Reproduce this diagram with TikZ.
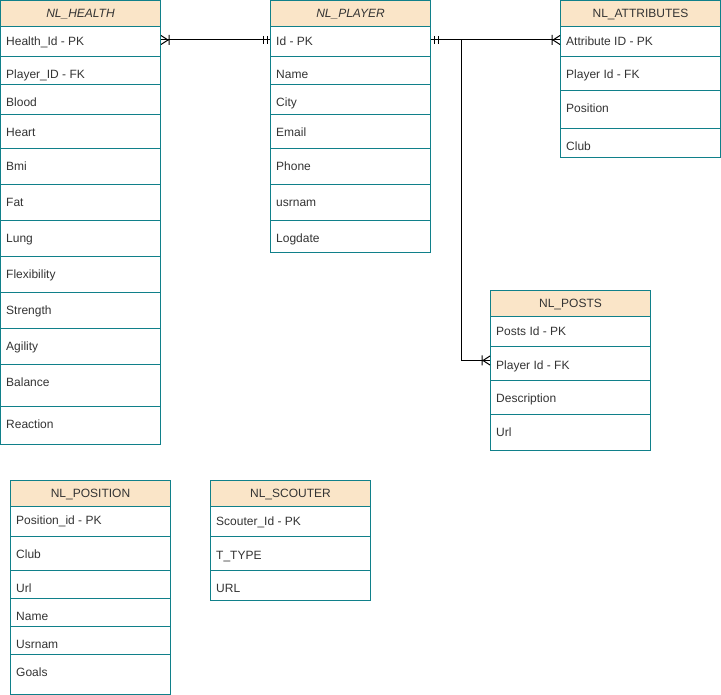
\documentclass[tikz,border=0pt]{standalone}
\usepackage{fontspec}
\setmainfont{Liberation Sans}
\definecolor{tblline}{HTML}{10808A}
\definecolor{tblhead}{HTML}{FAE5C8}
\definecolor{tbltext}{HTML}{333333}
\tikzset{
  erbox/.style={draw=tblline, line width=1pt, rectangle, inner sep=0pt,
    anchor=north west, minimum width=160pt},
  erhead/.style={erbox, fill=tblhead, text=tbltext,
    font=\fontsize{12}{14}\selectfont, text height=8.6pt, text depth=0pt},
  erfield/.style={anchor=west, inner sep=0pt, text=tbltext,
    font=\fontsize{12}{14}\selectfont, text height=8.6pt, text depth=0pt},
  link/.style={draw=black, line width=1pt},
}
% header box: name, x, top, height, title
\newcommand\erheader[5]{\node[erhead, minimum height=#4pt] (#1) at (#2,#3) {#5};}
% field row: name, x, top, bottom, text y, label
\newcommand\errow[6]{%
  \node[erbox, minimum height={(#4-#3)*1pt}] (#1) at (#2,#3) {};
  \node[erfield] (#1-t) at (#2+6,#5+1) {#6};}
% "mandatory one" end: two bars, drawn away from the table edge
\newcommand\onemark[2]{\begin{scope}[shift={(#1)}, xscale=#2]
  \draw[link] (3,-4) -- (3,4) (7,-4) -- (7,4);\end{scope}}
% "one or many" end: crow's foot plus a bar
\newcommand\manymark[2]{\begin{scope}[shift={(#1)}, xscale=#2]
  \draw[link] (0,-4.5) -- (7,0) -- (0,4.5) (8,-5) -- (8,5);\end{scope}}

\begin{document}
\begin{tikzpicture}[x=1pt, y=-1pt]
\useasboundingbox (0,0) rectangle (721,695);

% NL_HEALTH
\erheader{health}{0}{0}{26}{\itshape NL\_HEALTH}
\errow{hid}{0}{26}{56}{40}{Health\_Id - PK}
\errow{hpf}{0}{56}{84}{73}{Player\_ID - FK}
\errow{hbl}{0}{84}{114}{101}{Blood}
\errow{hhe}{0}{114}{148}{131}{Heart}
\errow{hbm}{0}{148}{184}{165}{Bmi}
\errow{hfa}{0}{184}{220}{201}{Fat}
\errow{hlu}{0}{220}{256}{237}{Lung}
\errow{hfl}{0}{256}{292}{273}{Flexibility}
\errow{hst}{0}{292}{328}{309}{Strength}
\errow{hag}{0}{328}{364}{345}{Agility}
\errow{hba}{0}{364}{406}{381}{Balance}
\errow{hre}{0}{406}{444}{423}{Reaction}

% NL_PLAYER
\erheader{player}{270}{0}{26}{\itshape NL\_PLAYER}
\errow{pid}{270}{26}{56}{40}{Id - PK}
\errow{pna}{270}{56}{84}{73}{Name}
\errow{pci}{270}{84}{114}{101}{City}
\errow{pem}{270}{114}{148}{131}{Email}
\errow{pph}{270}{148}{184}{165}{Phone}
\errow{pus}{270}{184}{220}{201}{usrnam}
\errow{plo}{270}{220}{252}{237}{Logdate}

% NL_ATTRIBUTES
\erheader{attrs}{560}{0}{26}{NL\_ATTRIBUTES}
\errow{aid}{560}{26}{56}{40}{Attribute ID - PK}
\errow{apl}{560}{56}{90}{73}{Player Id - FK}
\errow{apo}{560}{90}{128}{107}{Position}
\errow{acl}{560}{128}{157}{145}{Club}

% NL_POSTS
\erheader{posts}{490}{290}{26}{NL\_POSTS}
\errow{poid}{490}{316}{346}{330}{Posts Id - PK}
\errow{pofk}{490}{346}{380}{364}{Player Id - FK}
\errow{pode}{490}{380}{414}{397}{Description}
\errow{pour}{490}{414}{450}{431}{Url}

% NL_POSITION
\erheader{position}{10}{480}{26}{NL\_POSITION}
\errow{sid}{10}{506}{536}{519}{Position\_id - PK}
\errow{scl}{10}{536}{570}{553}{Club}
\errow{sur}{10}{570}{598}{587}{Url}
\errow{sna}{10}{598}{626}{615}{Name}
\errow{sus}{10}{626}{654}{643}{Usrnam}
\errow{sgo}{10}{654}{694}{671}{Goals}

% NL_SCOUTER
\erheader{scouter}{210}{480}{26}{NL\_SCOUTER}
\errow{cid}{210}{506}{536}{520}{Scouter\_Id - PK}
\errow{cty}{210}{536}{570}{554}{T\_TYPE}
\errow{cur}{210}{570}{600}{587}{URL}

% relationship end points
\coordinate (hEnd) at ([yshift=-14pt]hid.north east);
\coordinate (pL) at ([yshift=-14pt]pid.north west);
\coordinate (pR) at ([yshift=-14pt]pid.north east);
\coordinate (aEnd) at ([yshift=-14pt]aid.north west);
\coordinate (poEnd) at ([yshift=3pt]pofk.west);

% relationships
\draw[link] (hEnd) -- (pL);
\draw[link] (pR) -- (aEnd);
\draw[link] (pR) -- ++(30,0) |- (poEnd);

\manymark{hEnd}{1}
\onemark{pL}{-1}
\onemark{pR}{1}
\manymark{aEnd}{-1}
\manymark{poEnd}{-1}
\end{tikzpicture}
\end{document}
